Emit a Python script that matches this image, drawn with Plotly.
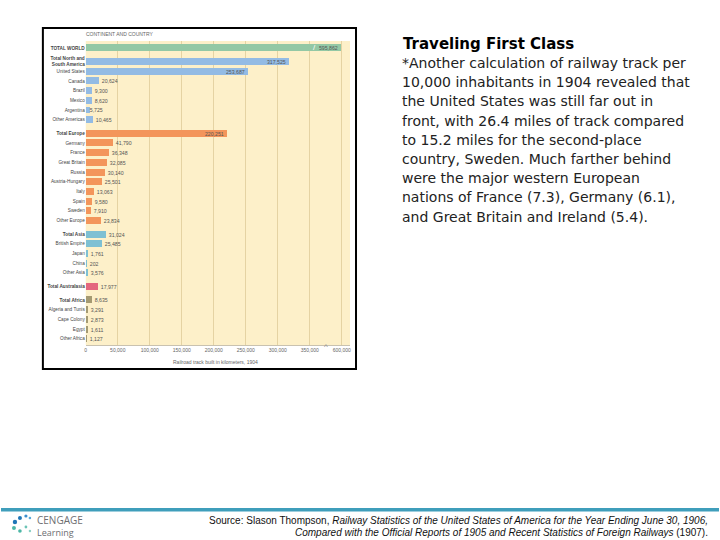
import plotly.graph_objects as go

# ---------------- data ----------------
labels = ["TOTAL WORLD", "Total North and<br>South America", "United States", "Canada", "Brazil",
          "Mexico", "Argentina", "Other Americas", "Total Europe", "Germany", "France",
          "Great Britain", "Russia", "Austria-Hungary", "Italy", "Spain", "Sweden",
          "Other Europe", "Total Asia", "British Empire", "Japan", "China", "Other Asia",
          "Total Australasia", "Total Africa", "Algeria and Tunis", "Cape Colony", "Egypt",
          "Other Africa"]
values = [595862, 317525, 253687, 20624, 9300, 8620, 5725, 10465, 220251, 41790, 36348,
          32085, 30140, 25501, 13063, 9580, 7910, 23834, 31024, 25485, 1761, 202, 3576,
          17977, 8635, 3291, 2873, 1611, 1127]
groups = ["world", "americas", "americas", "americas", "americas", "americas", "americas",
          "americas", "europe", "europe", "europe", "europe", "europe", "europe", "europe",
          "europe", "europe", "europe", "asia", "asia", "asia", "asia", "asia",
          "australasia", "africa", "africa", "africa", "africa", "africa"]
is_total = [l.lower().startswith("total") for l in labels]
group_colors = {"world": "#93c8a5", "americas": "#93bbe4", "europe": "#f3955b",
                "asia": "#7ec0d3", "australasia": "#e4677e", "africa": "#a59a72"}
tick_values = [0, 50000, 100000, 150000, 200000, 250000, 300000, 350000, 600000]
tick_labels = ["0", "50,000", "100,000", "150,000", "200,000", "250,000", "300,000",
               "350,000", "600,000"]

# broken axis: values above BREAK are compressed
BREAK = 350000
COMPRESS = 0.2


def axis_pos(v):
    return v if v <= BREAK else BREAK + (v - BREAK) * COMPRESS


# row positions (extra gap before each new group)
ypos = []
cur = 0.0
for i, g in enumerate(groups):
    if i > 0:
        cur += 1.0
        if g != groups[i - 1]:
            cur += 0.4
    ypos.append(cur)

W, H = 720, 540


def px(x):
    return x / W


def py(y):
    return 1 - y / H


fig = go.Figure()
fig.add_trace(go.Bar(
    x=[axis_pos(v) for v in values],
    y=ypos,
    orientation="h",
    width=0.72,
    marker=dict(color=[group_colors[g] for g in groups], line=dict(width=0)),
    text=[f"{v:,}" for v in values],
    textposition=["inside" if v > 100000 else "outside" for v in values],
    insidetextanchor="end",
    textangle=0,
    constraintext="none",
    cliponaxis=False,
    textfont=dict(size=5.2, color="#555555", family="Liberation Sans"),
    hoverinfo="skip",
))

fig.update_layout(
    width=W, height=H,
    margin=dict(l=0, r=0, t=0, b=0),
    paper_bgcolor="white",
    plot_bgcolor="#fdf0c9",
    showlegend=False,
    bargap=0,
    font=dict(family="Liberation Sans, Arial", color="#333"),
    xaxis=dict(
        domain=[px(85), px(350)],
        range=[0, 413000],
        tickvals=[axis_pos(v) for v in tick_values],
        ticktext=tick_labels,
        tickfont=dict(size=5, color="#666"),
        showgrid=True, gridcolor="#e5d3a3", gridwidth=1,
        zeroline=False, showline=True, linecolor="#c9c2b0", linewidth=0.6,
        ticks="", fixedrange=True,
    ),
    yaxis=dict(
        domain=[py(345), py(41)],
        range=[ypos[-1] + 0.65, -0.72],
        tickvals=ypos,
        ticktext=[f"<b>{l}</b>" if t else l for l, t in zip(labels, is_total)],
        tickfont=dict(size=4.7, color="#444"),
        showgrid=False, zeroline=False, ticks="", fixedrange=True,
    ),
)

# chart frame
fig.add_shape(type="rect", xref="paper", yref="paper",
              x0=px(42), x1=px(356), y0=py(369), y1=py(28),
              line=dict(color="black", width=2), layer="below")

# header & axis title
fig.add_annotation(text="CONTINENT AND COUNTRY", xref="paper", yref="paper",
                   x=px(83), y=py(34), xanchor="left", yanchor="middle", showarrow=False,
                   font=dict(size=5, color="#666"))
fig.add_annotation(text="Railroad track built in kilometers, 1904", xref="paper", yref="paper",
                   x=px(215), y=py(362), xanchor="center", yanchor="middle", showarrow=False,
                   font=dict(size=5, color="#666"))

# break marks
fig.add_annotation(text="/", x=358000, y=ypos[0], xref="x", yref="y", showarrow=False,
                   font=dict(size=8, color="white"))
fig.add_annotation(text="^", x=376000, xref="x", yref="paper", y=py(346), showarrow=False,
                   font=dict(size=8, color="#888"))

# right-side text
fig.add_annotation(text="<b>Traveling First Class</b>", xref="paper", yref="paper",
                   x=px(401), y=py(44), xanchor="left", yanchor="middle", showarrow=False,
                   font=dict(size=15, color="black", family="DejaVu Sans"))
body = ["*Another calculation of railway track per",
        "10,000 inhabitants in 1904 revealed that",
        "the United States was still far out in",
        "front, with 26.4 miles of track compared",
        "to 15.2 miles for the second-place",
        "country, Sweden. Much farther behind",
        "were the major western European",
        "nations of France (7.3), Germany (6.1),",
        "and Great Britain and Ireland (5.4)."]
for i, line in enumerate(body):
    fig.add_annotation(text=line, xref="paper", yref="paper",
                       x=px(400), y=py(63 + i * 19.2), xanchor="left", yanchor="middle",
                       showarrow=False,
                       font=dict(size=14, color="#222", family="DejaVu Sans"))

# bottom band
fig.add_shape(type="rect", xref="paper", yref="paper", x0=0, x1=1, y0=py(511.5), y1=py(508),
              line=dict(width=0), fillcolor="#3f9ebb")

# logo
dots = [(14, 522, "#1f76b7", 2.2), (19, 518, "#1f76b7", 2.0), (25, 516, "#3b8fce", 1.6),
        (29, 518, "#59a8d8", 1.3), (13, 528, "#4cb7a6", 2.0), (19, 531, "#4cb7a6", 1.8),
        (25, 527, "#6cc4b6", 1.4), (29, 531, "#8ad0c4", 1.2)]
for (cx, cy, c, r) in dots:
    fig.add_shape(type="circle", xref="paper", yref="paper",
                  x0=px(cx - r), x1=px(cx + r), y0=py(cy + r), y1=py(cy - r),
                  line=dict(width=0), fillcolor=c)
fig.add_annotation(text="CENGAGE", xref="paper", yref="paper", x=px(34), y=py(519.5),
                   xanchor="left", yanchor="middle", showarrow=False,
                   font=dict(size=10, color="#6d6e71", family="Open Sans"))
fig.add_annotation(text="Learning", xref="paper", yref="paper", x=px(34), y=py(532.5),
                   xanchor="left", yanchor="middle", showarrow=False,
                   font=dict(size=9, color="#6d6e71", family="Open Sans"))

# source
fig.add_annotation(
    text="Source: Slason Thompson, <i>Railway Statistics of the United States of America for the Year Ending June 30, 1906,</i>",
    xref="paper", yref="paper", x=px(711), y=py(520), xanchor="right", yanchor="middle",
    showarrow=False, font=dict(size=10, color="#111", family="Liberation Sans, Arial"))
fig.add_annotation(
    text="<i>Compared with the Official Reports of 1905 and Recent Statistics of Foreign Railways</i> (1907).",
    xref="paper", yref="paper", x=px(711), y=py(532), xanchor="right", yanchor="middle",
    showarrow=False, font=dict(size=10, color="#111", family="Liberation Sans, Arial"))

fig.write_html("out.html", config={"displayModeBar": False},
               post_script="document.body.style.margin='0';document.body.style.overflow='hidden';")
